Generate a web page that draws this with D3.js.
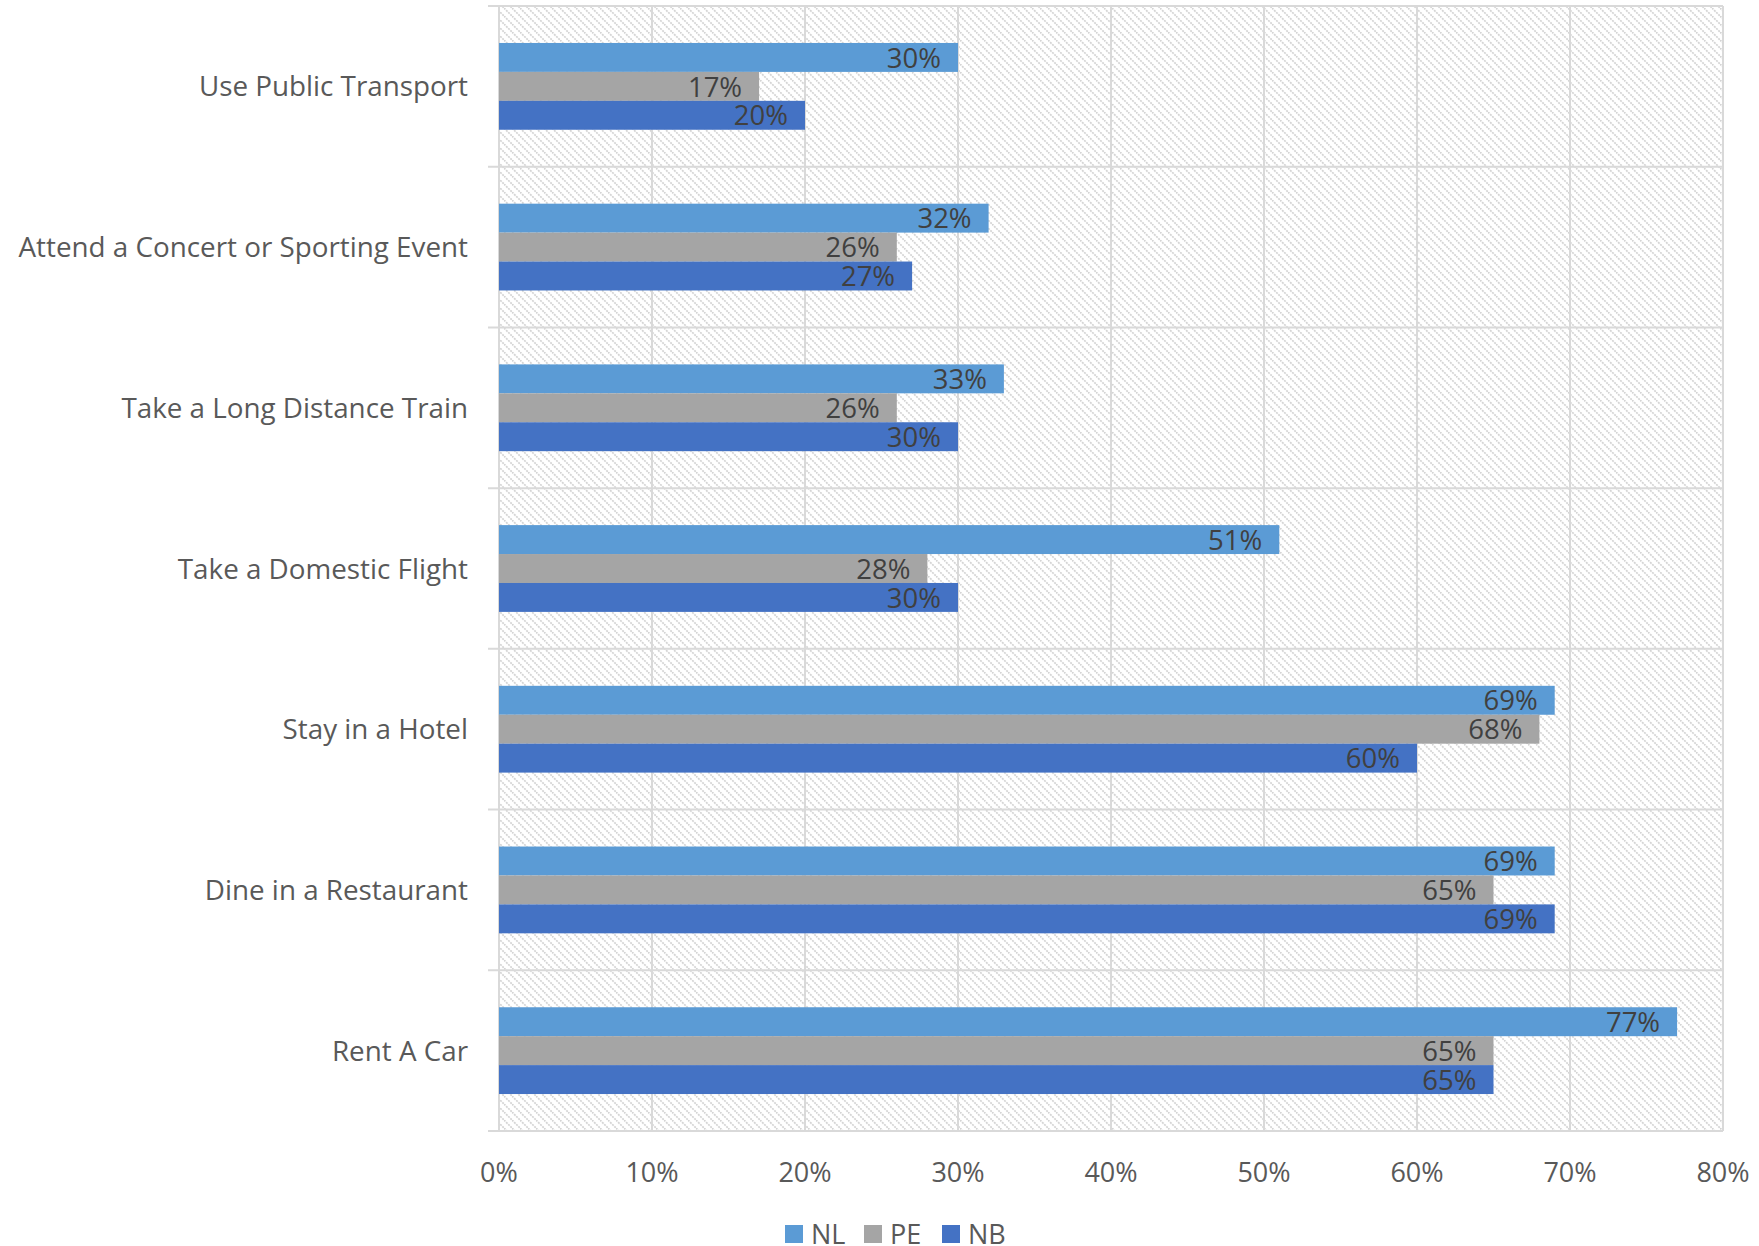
<!DOCTYPE html>
<html>
<head>
<meta charset="utf-8">
<script src="https://cdn.jsdelivr.net/npm/d3@7"></script>
<style>
  body { margin: 0; background: #fff; }
  text { font-family: "Open Sans", "Noto Sans", sans-serif; }
</style>
</head>
<body>
<div id="chart"></div>
<script>
const categories = ["Use Public Transport", "Attend a Concert or Sporting Event", "Take a Long Distance Train",
    "Take a Domestic Flight", "Stay in a Hotel", "Dine in a Restaurant", "Rent A Car"];
const seriesNames = ["NL", "PE", "NB"];
const nlValues = [30, 32, 33, 51, 69, 69, 77];
const peValues = [17, 26, 26, 28, 68, 65, 65];
const nbValues = [20, 27, 30, 30, 60, 69, 65];
const xTicks = [0, 10, 20, 30, 40, 50, 60, 70, 80];

const colors = { NL: "#5B9BD5", PE: "#A5A5A5", NB: "#4472C4" };
const seriesValues = { NL: nlValues, PE: peValues, NB: nbValues };

const width = 1759;
const height = 1246;
const margin = { top: 6, right: 36, bottom: 115, left: 499 };

const svg = d3.select("#chart")
    .append("svg")
    .attr("width", width)
    .attr("height", height);

// hatch background
const defs = svg.append("defs");
const pat = defs.append("pattern")
    .attr("id", "hatch")
    .attr("patternUnits", "userSpaceOnUse")
    .attr("width", 8)
    .attr("height", 8);
pat.append("rect").attr("width", 8).attr("height", 8).attr("fill", "#fff");
pat.append("path")
    .attr("d", "M0,0 L8,8 M-4,4 L4,12 M4,-4 L12,4")
    .attr("stroke", "#d4d4d4")
    .attr("stroke-width", 1.7)
    .attr("stroke-dasharray", "2,1");

const x = d3.scaleLinear()
    .domain([0, 80])
    .range([margin.left, width - margin.right]);

const y0 = d3.scaleBand()
    .domain(categories)
    .range([margin.top, height - margin.bottom])
    .padding(0);

const y1 = d3.scaleBand()
    .domain(seriesNames)
    .range([y0.bandwidth() * 0.23, y0.bandwidth() * 0.77])
    .padding(0);

svg.append("rect")
    .attr("x", x(0))
    .attr("y", margin.top)
    .attr("width", x(80) - x(0))
    .attr("height", height - margin.bottom - margin.top)
    .attr("fill", "url(#hatch)");

// vertical gridlines
svg.append("g")
    .selectAll("line")
    .data(xTicks)
    .enter().append("line")
    .attr("x1", d => x(d))
    .attr("x2", d => x(d))
    .attr("y1", margin.top)
    .attr("y2", height - margin.bottom)
    .attr("stroke", "#d9d9d9")
    .attr("stroke-width", 2);

// category separators (with outward ticks)
const bounds = categories.map(c => y0(c)).concat([height - margin.bottom]);
svg.append("g")
    .selectAll("line")
    .data(bounds)
    .enter().append("line")
    .attr("x1", x(0) - 11)
    .attr("x2", x(80))
    .attr("y1", d => d)
    .attr("y2", d => d)
    .attr("stroke", "#d9d9d9")
    .attr("stroke-width", 2);

// bars
const rows = [];
categories.forEach((c, i) => {
    seriesNames.forEach(s => rows.push({ cat: c, series: s, value: seriesValues[s][i] }));
});

svg.append("g")
    .selectAll("rect")
    .data(rows)
    .enter().append("rect")
    .attr("x", x(0))
    .attr("y", d => y0(d.cat) + y1(d.series))
    .attr("width", d => x(d.value) - x(0))
    .attr("height", y1.bandwidth())
    .attr("fill", d => colors[d.series]);

svg.append("g")
    .selectAll("text")
    .data(rows)
    .enter().append("text")
    .attr("x", d => x(d.value) - 17)
    .attr("y", d => y0(d.cat) + y1(d.series) + y1.bandwidth() / 2)
    .attr("dy", "0.37em")
    .attr("text-anchor", "end")
    .attr("font-size", 27.5)
    .attr("fill", "#404040")
    .text(d => d.value + "%");

// category labels
svg.append("g")
    .selectAll("text")
    .data(categories)
    .enter().append("text")
    .attr("x", 468)
    .attr("y", d => y0(d) + y0.bandwidth() / 2)
    .attr("dy", "0.36em")
    .attr("text-anchor", "end")
    .attr("font-size", 27.8)
    .attr("fill", "#595959")
    .text(d => d);

// x axis labels
svg.append("g")
    .selectAll("text")
    .data(xTicks)
    .enter().append("text")
    .attr("x", d => x(d))
    .attr("y", 1172)
    .attr("dy", "0.36em")
    .attr("text-anchor", "middle")
    .attr("font-size", 27)
    .attr("fill", "#595959")
    .text(d => d + "%");

// legend
const legendX = [785, 864, 942];
const legend = svg.append("g")
    .selectAll("g")
    .data(seriesNames)
    .enter().append("g")
    .attr("transform", (d, i) => `translate(${legendX[i]},1234)`);
legend.append("rect")
    .attr("x", 0)
    .attr("y", -9)
    .attr("width", 18)
    .attr("height", 18)
    .attr("fill", d => colors[d]);
legend.append("text")
    .attr("x", 26)
    .attr("dy", "0.36em")
    .attr("font-size", 27)
    .attr("fill", "#595959")
    .text(d => d);
</script>
</body>
</html>
